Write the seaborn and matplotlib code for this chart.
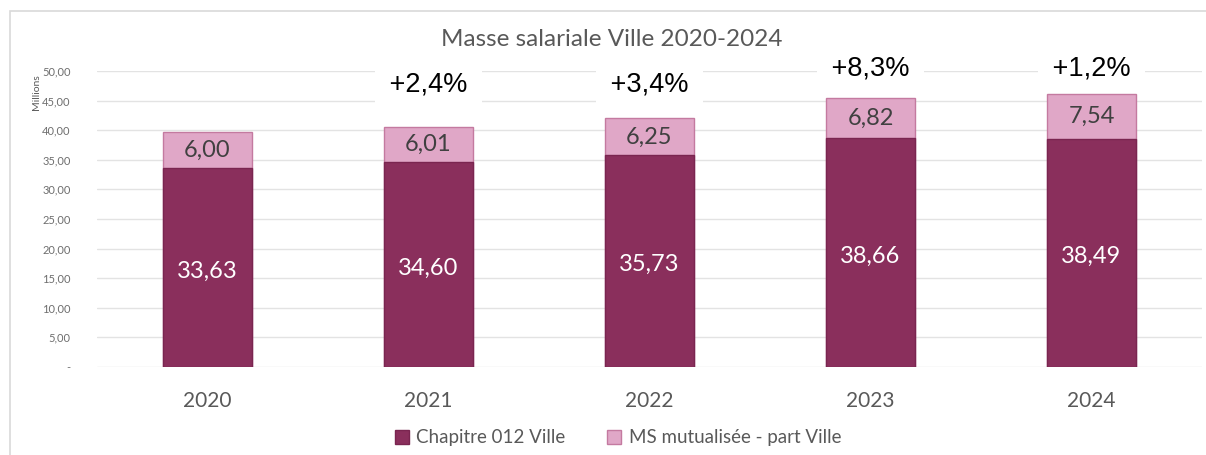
import matplotlib
matplotlib.use("Agg")
import matplotlib.pyplot as plt
import seaborn as sns
import pandas as pd
from matplotlib.patches import Rectangle, Patch

years = ["2020", "2021", "2022", "2023", "2024"]
chapitre = [33.63, 34.60, 35.73, 38.66, 38.49]
ms_mut = [6.00, 6.01, 6.25, 6.82, 7.54]
growth = ["", "+2,4%", "+3,4%", "+8,3%", "+1,2%"]
growth_y = [None, 47.7, 47.8, 50.5, 50.5]
yticks = [0, 5, 10, 15, 20, 25, 30, 35, 40, 45, 50]

dark = "#8A2F5C"
light = "#E0A7C7"
gray = "#595959"
FONT = ["Lato", "DejaVu Sans"]

sns.set_theme(style="white")
plt.rcParams["font.family"] = FONT

df = pd.DataFrame({"year": years, "chap": chapitre, "ms": ms_mut})
df["total"] = df["chap"] + df["ms"]

fig = plt.figure(figsize=(12.06, 4.55), dpi=100)
ax = fig.add_axes([0.0804, 0.1934, 0.9163, 0.6506])

# frame of the chart area
fig.patches.append(Rectangle((10 / 1206, -0.05), 1.2, (455 - 11) / 455 + 0.05,
                             transform=fig.transFigure, fill=False,
                             edgecolor="#D9D9D9", linewidth=1.2, zorder=0))

sns.barplot(data=df, x="year", y="total", color=light, ax=ax, width=0.4,
            edgecolor="#C47AA0", linewidth=1.0, saturation=1, zorder=2)
sns.barplot(data=df, x="year", y="chap", color=dark, ax=ax, width=0.4,
            edgecolor="#7A2550", linewidth=1.0, saturation=1, zorder=3)

ax.set_ylim(0, 50)
ax.set_xlim(-0.5, 4.5)
ax.set_yticks(yticks)
ax.set_yticklabels(["-" if v == 0 else f"{v:.2f}".replace(".", ",") for v in yticks],
                   fontsize=8, color="#6E6E6E")
ax.yaxis.grid(True, color="#E3E3E3", linewidth=1.0, zorder=0)
ax.set_axisbelow(True)
for s in ax.spines.values():
    s.set_visible(False)
ax.tick_params(axis="y", length=0, pad=19)
ax.tick_params(axis="x", length=0, pad=17, labelsize=15, labelcolor=gray)
ax.set_xlabel("")
ax.set_ylabel("")

fig.text(36 / 1206, 1 - 92 / 455, "Millions", rotation=90, fontsize=7.5, color=gray,
         ha="center", va="center")

for i, (c, m) in enumerate(zip(chapitre, ms_mut)):
    ax.text(i, c / 2 - 0.6, f"{c:.2f}".replace(".", ","), ha="center", va="center",
            color="white", fontsize=17, zorder=5)
    ax.text(i, c + m / 2, f"{m:.2f}".replace(".", ","), ha="center", va="center",
            color="#404040", fontsize=17, zorder=5)
    if growth[i]:
        ax.text(i, growth_y[i], " " + growth[i] + " ", ha="center", va="center",
                fontsize=19.5, family=["Liberation Sans", "DejaVu Sans"], color="black",
                zorder=6, clip_on=False,
                bbox=dict(boxstyle="square,pad=0.25", facecolor="white", edgecolor="none"))

fig.text(612 / 1206, 1 - 40 / 455, "Masse salariale Ville 2020-2024", ha="center",
         va="center", fontsize=17.5, color=gray)

handles = [Patch(facecolor=dark, edgecolor="#7A2550", label="Chapitre 012 Ville"),
           Patch(facecolor=light, edgecolor="#C47AA0", label="MS mutualisée - part Ville")]
fig.legend(handles=handles, loc="center", bbox_to_anchor=(618 / 1206, 1 - 438 / 455),
           ncol=2, frameon=False, fontsize=13.5, labelcolor=gray,
           handlelength=0.75, handleheight=0.75, handletextpad=0.4, columnspacing=2.2)

fig.savefig("out.png", dpi=100)
